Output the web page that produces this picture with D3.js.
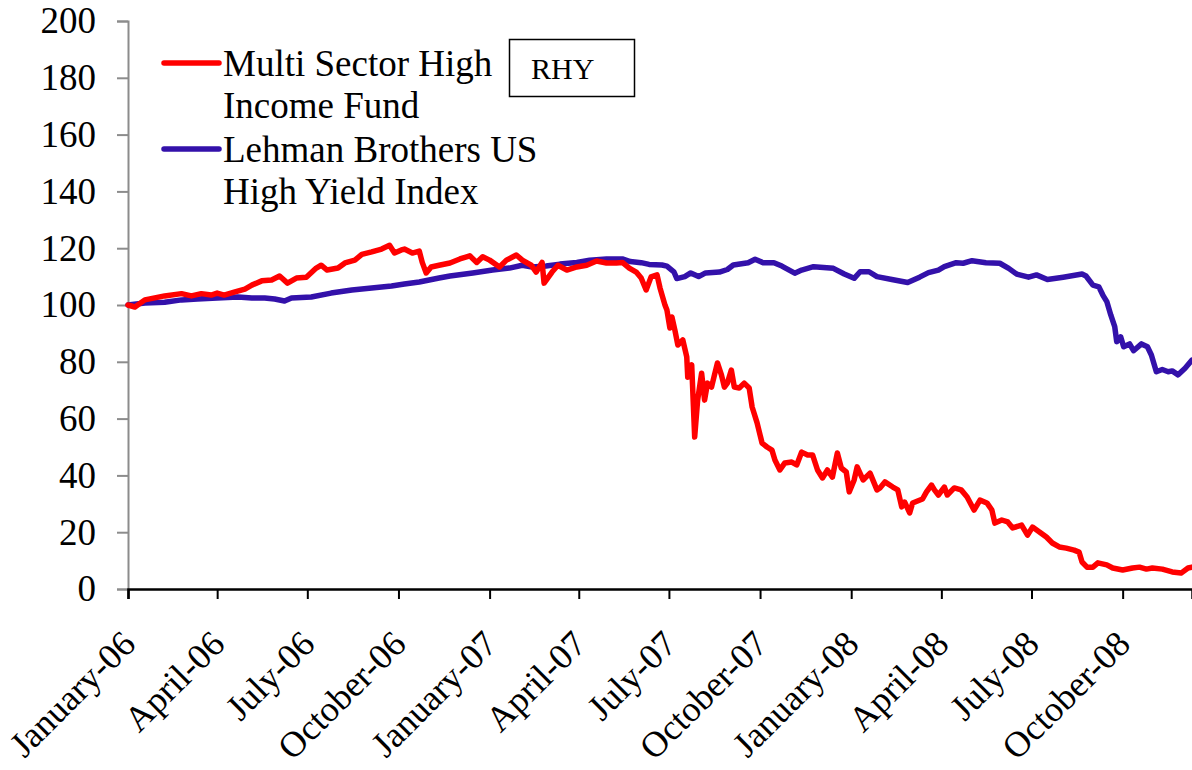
<!DOCTYPE html>
<html>
<head>
<meta charset="utf-8">
<script src="https://cdn.jsdelivr.net/npm/d3@7"></script>
<style>
  body { margin: 0; background: #ffffff; }
  svg { display: block; font-family: "Liberation Serif", "Times New Roman", serif; }
</style>
</head>
<body>
<div id="chart"></div>
<script>
// #####################################################
// Data
//
var redDates = [
  "2006-01-01","2006-01-08","2006-01-18","2006-01-28","2006-02-07","2006-02-24","2006-03-06","2006-03-16",
  "2006-03-26","2006-04-01","2006-04-08","2006-04-19","2006-04-29","2006-05-06","2006-05-16","2006-05-26",
  "2006-06-03","2006-06-11","2006-06-20","2006-06-30","2006-07-10","2006-07-15","2006-07-21","2006-08-01",
  "2006-08-08","2006-08-18","2006-08-25","2006-09-04","2006-09-14","2006-09-22","2006-09-27","2006-10-04",
  "2006-10-07","2006-10-15","2006-10-22","2006-10-25","2006-10-29","2006-11-03","2006-11-11","2006-11-22",
  "2006-12-02","2006-12-12","2006-12-19","2006-12-25","2007-01-01","2007-01-11","2007-01-18","2007-01-28",
  "2007-02-03","2007-02-12","2007-02-17","2007-02-23","2007-02-25","2007-03-05","2007-03-11","2007-03-20",
  "2007-03-30","2007-04-09","2007-04-19","2007-04-29","2007-05-09","2007-05-15","2007-05-22","2007-05-29",
  "2007-06-03","2007-06-08","2007-06-13","2007-06-19","2007-06-22","2007-06-27","2007-06-29","2007-07-02",
  "2007-07-04","2007-07-07","2007-07-10","2007-07-15","2007-07-19","2007-07-20","2007-07-24","2007-07-27",
  "2007-07-30","2007-08-03","2007-08-06","2007-08-09","2007-08-13","2007-08-16","2007-08-19","2007-08-23",
  "2007-08-26","2007-08-29","2007-09-02","2007-09-05","2007-09-10","2007-09-15","2007-09-20","2007-09-23",
  "2007-09-28","2007-10-03","2007-10-08","2007-10-13","2007-10-16","2007-10-21","2007-10-26","2007-11-02",
  "2007-11-07","2007-11-12","2007-11-18","2007-11-23","2007-11-28","2007-12-03","2007-12-08","2007-12-13",
  "2007-12-18","2007-12-22","2007-12-27","2007-12-30","2008-01-04","2008-01-07","2008-01-13","2008-01-20",
  "2008-01-27","2008-01-30","2008-02-04","2008-02-12","2008-02-17","2008-02-21","2008-02-24","2008-02-29",
  "2008-03-03","2008-03-13","2008-03-17","2008-03-22","2008-03-25","2008-03-29","2008-04-04","2008-04-07",
  "2008-04-14","2008-04-21","2008-04-27","2008-05-04","2008-05-10","2008-05-17","2008-05-22","2008-05-25",
  "2008-06-01","2008-06-07","2008-06-12","2008-06-21","2008-06-27","2008-07-02","2008-07-09","2008-07-16",
  "2008-07-22","2008-07-29","2008-08-05","2008-08-13","2008-08-18","2008-08-21","2008-08-26","2008-09-01",
  "2008-09-06","2008-09-15","2008-09-21","2008-10-01","2008-10-11","2008-10-18","2008-10-25","2008-10-31",
  "2008-11-10","2008-11-20","2008-11-29","2008-12-06","2008-12-10"
];
var redValues = [
  100.0, 99.3, 101.8, 102.5, 103.2, 104.0, 103.2, 104.0,
  103.5, 104.2, 103.5, 104.6, 105.6, 107.0, 108.5, 108.8,
  110.2, 107.7, 109.5, 109.8, 113.0, 114.0, 112.3, 113.0,
  114.8, 115.8, 117.8, 118.7, 119.7, 121.0, 118.3, 119.4,
  119.7, 118.3, 119.0, 115.0, 111.3, 113.4, 114.0, 114.8,
  116.2, 117.3, 115.0, 117.0, 115.8, 113.4, 115.8, 117.6,
  115.8, 114.0, 111.6, 115.0, 107.7, 111.6, 114.0, 112.3,
  113.4, 114.0, 115.5, 114.8, 114.8, 115.0, 113.0, 111.6,
  109.5, 105.3, 109.9, 110.6, 106.0, 100.0, 98.2, 91.9,
  95.8, 91.2, 85.9, 87.7, 81.7, 74.6, 78.9, 53.5,
  66.5, 76.0, 66.5, 72.5, 71.1, 75.4, 79.6, 75.4,
  71.1, 72.5, 77.1, 71.1, 70.8, 72.5, 70.8, 64.1,
  58.5, 51.4, 50.0, 48.9, 45.4, 41.9, 44.4, 44.7,
  43.7, 48.2, 47.2, 47.2, 41.9, 39.1, 41.9, 39.4,
  47.9, 42.6, 41.2, 34.2, 38.4, 43.0, 38.4, 40.8,
  34.9, 35.6, 37.7, 35.9, 34.9, 28.9, 30.6, 26.8,
  30.3, 31.7, 34.2, 36.6, 34.9, 33.1, 35.9, 33.1,
  35.6, 34.9, 32.4, 27.8, 31.3, 30.3, 27.8, 23.2,
  24.3, 23.6, 21.5, 22.5, 19.0, 21.8, 20.1, 18.3,
  16.2, 14.8, 14.4, 13.7, 13.0, 9.5, 7.7, 7.7,
  9.2, 8.5, 7.4, 6.7, 7.4, 7.7, 7.0, 7.4,
  7.0, 6.0, 5.6, 7.4, 7.7
];

var blueDates = [
  "2006-01-01","2006-01-18","2006-02-07","2006-02-24","2006-03-12","2006-04-01","2006-04-22","2006-05-06",
  "2006-05-19","2006-05-29","2006-06-08","2006-06-15","2006-07-05","2006-07-25","2006-08-15","2006-09-04",
  "2006-09-24","2006-10-07","2006-10-22","2006-11-01","2006-11-11","2006-11-22","2006-12-15","2007-01-04",
  "2007-01-21","2007-02-03","2007-02-13","2007-02-27","2007-03-13","2007-03-30","2007-04-12","2007-04-29",
  "2007-05-15","2007-05-23","2007-06-03","2007-06-11","2007-06-24","2007-06-29","2007-07-06","2007-07-09",
  "2007-07-17","2007-07-23","2007-07-31","2007-08-07","2007-08-21","2007-08-29","2007-09-04","2007-09-19",
  "2007-09-26","2007-10-04","2007-10-15","2007-10-23","2007-11-05","2007-11-12","2007-11-24","2007-12-14",
  "2007-12-25","2008-01-04","2008-01-10","2008-01-19","2008-01-27","2008-02-11","2008-02-27","2008-03-10",
  "2008-03-19","2008-03-29","2008-04-04","2008-04-16","2008-04-23","2008-05-02","2008-05-16","2008-05-30",
  "2008-06-08","2008-06-16","2008-06-28","2008-07-06","2008-07-17","2008-08-02","2008-08-21","2008-08-25",
  "2008-09-01","2008-09-07","2008-09-11","2008-09-15","2008-09-19","2008-09-23","2008-09-25","2008-09-29",
  "2008-10-02","2008-10-08","2008-10-12","2008-10-20","2008-10-26","2008-10-30","2008-11-04","2008-11-10",
  "2008-11-16","2008-11-20","2008-11-26","2008-12-03","2008-12-10"
];
var blueValues = [
  100.0, 100.7, 101.0, 101.8, 102.1, 102.5, 102.8, 102.5,
  102.5, 102.1, 101.4, 102.5, 102.8, 104.2, 105.3, 106.0,
  106.7, 107.4, 108.1, 108.8, 109.5, 110.2, 111.3, 112.3,
  113.0, 114.0, 113.4, 113.7, 114.4, 115.0, 115.8, 116.2,
  116.2, 115.3, 114.9, 114.3, 114.1, 113.7, 111.7, 109.3,
  110.0, 111.3, 110.0, 111.3, 111.6, 112.5, 114.1, 114.9,
  116.1, 114.9, 114.9, 113.7, 111.2, 112.3, 113.5, 112.9,
  110.9, 109.4, 111.7, 111.7, 110.0, 109.0, 107.9, 109.8,
  111.4, 112.3, 113.5, 114.9, 114.7, 115.6, 114.9, 114.7,
  112.9, 110.9, 109.8, 110.6, 109.0, 109.8, 110.9, 110.2,
  107.0, 106.4, 103.5, 101.2, 96.5, 92.4, 87.1, 88.8,
  85.3, 86.3, 83.9, 86.3, 85.3, 82.4, 76.5, 77.3,
  76.5, 76.8, 75.4, 77.7, 80.6
];

var yTicks = [0, 20, 40, 60, 80, 100, 120, 140, 160, 180, 200];
var xTickDates = [
  "2006-01-01","2006-04-01","2006-07-01","2006-10-01",
  "2007-01-01","2007-04-01","2007-07-01","2007-10-01",
  "2008-01-01","2008-04-01","2008-07-01","2008-10-01"
];
var seriesNames = [["Multi Sector High", "Income Fund"], ["Lehman Brothers US", "High Yield Index"]];
var seriesColors = ["#ff0000", "#3311aa"];
var boxLabel = "RHY";

// #####################################################
// Build chart
//
var width = 1192, height = 770;
var margin = {top: 21, right: 0, bottom: 181, left: 128};
var serif = "'Liberation Serif', 'Times New Roman', serif";

var parseDate = d3.timeParse("%Y-%m-%d");

var svg = d3.select("#chart").append("svg")
    .attr("width", width)
    .attr("height", height);

var x = d3.scaleTime()
    .domain([parseDate("2006-01-01"), parseDate("2008-12-10")])
    .range([margin.left, width - margin.right]);

var y = d3.scaleLinear()
    .domain([0, 200])
    .range([height - margin.bottom, margin.top]);

// Y axis (grey)
var yAxis = svg.append("g")
    .attr("transform", "translate(" + margin.left + ",0)")
    .call(d3.axisLeft(y).tickValues(yTicks).tickSize(11).tickPadding(21));
yAxis.attr("font-family", serif);
yAxis.select(".domain").attr("stroke", "#8c8c8c").attr("stroke-width", 2);
yAxis.selectAll(".tick line").attr("stroke", "#8c8c8c").attr("stroke-width", 2);
yAxis.selectAll(".tick text")
    .attr("fill", "#000")
    .style("font-family", serif)
    .style("font-size", "37px");

// X axis (black)
var xAxis = svg.append("g")
    .attr("transform", "translate(0," + y(0) + ")")
    .call(d3.axisBottom(x)
      .tickValues(xTickDates.map(parseDate))
      .tickFormat(d3.timeFormat("%B-%y"))
      .tickSizeOuter(0)
      .tickSize(10));
xAxis.attr("font-family", serif);
xAxis.select(".domain").attr("stroke", "#000").attr("stroke-width", 2.5);
xAxis.selectAll(".tick line").attr("stroke", "#000").attr("stroke-width", 2);
xAxis.selectAll(".tick text")
    .attr("fill", "#000")
    .attr("text-anchor", "end")
    .attr("dy", null)
    .attr("y", 0)
    .attr("transform", "translate(9,57) rotate(-45)")
    .style("font-family", serif)
    .style("font-size", "36px");

// Lines
var line = d3.line()
    .x(function(d) { return x(d.date); })
    .y(function(d) { return y(d.value); });

function toPoints(dates, values) {
  return dates.map(function(d, i) { return {date: parseDate(d), value: values[i]}; });
}

var series = [toPoints(blueDates, blueValues), toPoints(redDates, redValues)];
var colors = [seriesColors[1], seriesColors[0]];

svg.selectAll(".series")
    .data(series)
  .enter().append("path")
    .attr("class", "series")
    .attr("fill", "none")
    .attr("stroke", function(d, i) { return colors[i]; })
    .attr("stroke-width", 5.5)
    .attr("stroke-linejoin", "round")
    .attr("stroke-linecap", "round")
    .attr("d", line);

// Legend
var legend = svg.append("g").attr("class", "legend");
var legendRows = [63, 149];
seriesNames.forEach(function(names, i) {
  legend.append("line")
      .attr("x1", 164).attr("x2", 219)
      .attr("y1", legendRows[i]).attr("y2", legendRows[i])
      .attr("stroke", seriesColors[i])
      .attr("stroke-width", 5.5)
      .attr("stroke-linecap", "round");
  names.forEach(function(n, j) {
    legend.append("text")
        .attr("x", 223)
        .attr("y", legendRows[i] + 13 + j * 42)
        .style("font-family", serif)
        .style("font-size", "37px")
        .text(n);
  });
});

// RHY box
svg.append("rect")
    .attr("x", 509.5).attr("y", 39.5)
    .attr("width", 125).attr("height", 57)
    .attr("fill", "#fff")
    .attr("stroke", "#000")
    .attr("stroke-width", 1.5);
svg.append("text")
    .attr("x", 531).attr("y", 79)
    .style("font-family", serif)
    .style("font-size", "30px")
    .text(boxLabel);
</script>
</body>
</html>
